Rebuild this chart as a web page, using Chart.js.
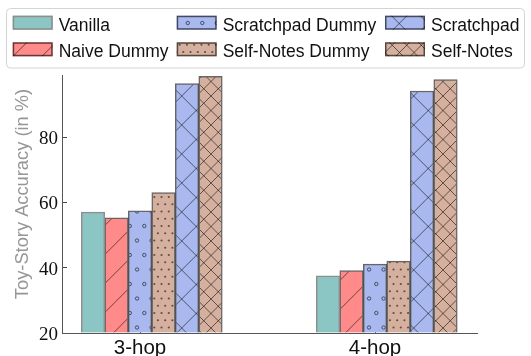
<!DOCTYPE html>
<html>
<head>
<meta charset="utf-8">
<script src="https://cdn.jsdelivr.net/npm/chart.js@4/dist/chart.umd.min.js"></script>
<style>
html,body{margin:0;padding:0;background:#fff;}
#wrap{width:531px;height:356px;position:relative;}
</style>
</head>
<body>
<div id="wrap"><canvas id="c" width="531" height="356"></canvas></div>
<script>
// ---- data ----
const categories = ['3-hop', '4-hop'];
const seriesNames = ['Vanilla', 'Naive Dummy', 'Scratchpad Dummy', 'Self-Notes Dummy', 'Scratchpad', 'Self-Notes'];
const vanilla         = [57.0, 37.5];
const naiveDummy      = [55.3, 39.1];
const scratchpadDummy = [57.4, 41.1];
const selfNotesDummy  = [63.0, 42.0];
const scratchpad      = [96.4, 94.1];
const selfNotes       = [98.6, 97.6];
const yTicks = [20, 40, 60, 80];
const yLabel = 'Toy-Story Accuracy (in %)';

// ---- styles ----
const seriesValues = [vanilla, naiveDummy, scratchpadDummy, selfNotesDummy, scratchpad, selfNotes];
const faces = ['#8cc6c4', '#ff8a8a', '#a9b9f0', '#d5b09e', '#a9b9f0', '#d5b09e'];
const edges = ['#8e8e8e', 'rgba(0,0,0,0.6)', 'rgba(0,0,0,0.6)', 'rgba(0,0,0,0.6)', 'rgba(0,0,0,0.6)', 'rgba(0,0,0,0.6)'];
const hatches = ['', '/', 'o', '..', 'x', 'xx'];
const slotOffsets = [-0.2, -0.1, 0, 0.1, 0.2, 0.3];

const canvas = document.getElementById('c');
const ctx = canvas.getContext('2d');
const S = 58, P = 29;
const HATCH = 'rgba(0,0,0,0.55)';

function slashLines(g, period, c0) { // lines x + y = c
  g.beginPath();
  for (let c = c0 - 3 * period; c <= 2 * S + 2 * period; c += period) {
    g.moveTo(c + 10, -10); g.lineTo(c - S - 10, S + 10);
  }
  g.stroke();
}
function backLines(g, period, d0) { // lines y - x = d
  g.beginPath();
  for (let d = d0 - S - 2 * period; d <= S + 2 * period; d += period) {
    g.moveTo(-10, d - 10); g.lineTo(S + 10, d + S + 10);
  }
  g.stroke();
}
function lattice(g, sp, ox, oy, fn) {
  const rows = Math.round(S / sp);
  for (let r = -1; r <= rows + 1; r++) {
    const y = oy + r * sp;
    const sh = (Math.abs(r) % 2 === 1) ? sp / 2 : 0;
    for (let j = -1; j <= rows + 1; j++) fn(ox + sh + j * sp, y);
  }
}
function makePattern(face, hatch) {
  if (!hatch) return face;
  const t = document.createElement('canvas');
  t.width = S; t.height = S;
  const g = t.getContext('2d');
  g.fillStyle = face; g.fillRect(0, 0, S, S);
  g.strokeStyle = HATCH; g.fillStyle = HATCH; g.lineWidth = 1;
  if (hatch === '/') slashLines(g, P, 11.3);
  if (hatch === 'x') { slashLines(g, P, 16.7); backLines(g, P, 1.3); }
  if (hatch === 'xx') { slashLines(g, P / 2, 2.5); backLines(g, P / 2, 1.0); }
  if (hatch === 'o') lattice(g, P / 2, 13.8, 23, (x, y) => { g.beginPath(); g.arc(x, y, 1.7, 0, Math.PI * 2); g.stroke(); });
  if (hatch === '..') lattice(g, P / 4, 2.05, 8.5, (x, y) => { g.beginPath(); g.arc(x, y, 1.1, 0, Math.PI * 2); g.fill(); });
  return ctx.createPattern(t, 'repeat');
}

const datasets = seriesNames.map((name, k) => ({
  label: name,
  data: seriesValues[k].map((v, i) => ({ x: i + slotOffsets[k], y: v })),
  backgroundColor: makePattern(faces[k], hatches[k]),
  borderColor: edges[k],
  borderWidth: 1.5,
  borderSkipped: 'start',
  base: 20,
  grouped: false,
  categoryPercentage: 1,
  barPercentage: 1
}));

// legend drawn matplotlib-style (3 columns, column-major)
const legendPlugin = {
  id: 'mplLegend',
  afterDraw(chart) {
    const c = chart.ctx;
    c.save();
    c.beginPath();
    c.roundRect(6.5, 8.5, 518, 59.5, 4);
    c.fillStyle = 'rgba(255,255,255,0.9)';
    c.fill();
    c.strokeStyle = '#d4d4d4'; c.lineWidth = 1; c.stroke();
    const colX = [12.7, 176.7, 385];
    const rowTop = [15.7, 42.3];
    const rowBase = [31, 56.7];
    c.font = '17.5px "Liberation Sans"';
    c.textBaseline = 'alphabetic';
    c.textAlign = 'left';
    chart.data.datasets.forEach((ds, k) => {
      const col = Math.floor(k / 2), row = k % 2;
      const x = colX[col], y = rowTop[row];
      c.fillStyle = ds.backgroundColor;
      c.fillRect(x, y, 40, 14);
      c.strokeStyle = ds.borderColor; c.lineWidth = 1.5;
      c.strokeRect(x + 0.75, y + 0.75, 38.5, 12.5);
      c.fillStyle = '#111';
      c.fillText(ds.label, x + 46, rowBase[row]);
    });
    c.restore();
  }
};
const yTitlePlugin = {
  id: 'yTitle',
  afterDraw(chart) {
    const c = chart.ctx;
    c.save();
    c.translate(23, 194);
    c.rotate(-Math.PI / 2);
    c.font = '18.3px "Liberation Sans"';
    c.fillStyle = '#969696';
    c.textAlign = 'center';
    c.textBaseline = 'middle';
    c.fillText(yLabel, 0, 0);
    c.restore();
  }
};

new Chart(ctx, {
  type: 'bar',
  data: { datasets },
  plugins: [legendPlugin, yTitlePlugin],
  options: {
    responsive: false,
    animation: false,
    devicePixelRatio: 1,
    layout: { padding: { top: 75, left: 0, right: 54, bottom: 0 } },
    plugins: { legend: { display: false }, tooltip: { enabled: false }, title: { display: false } },
    scales: {
      x: {
        type: 'linear',
        min: -0.332,
        max: 1.434,
        offset: false,
        afterBuildTicks: s => { s.ticks = categories.map((_, i) => ({ value: i })); },
        afterFit: s => { s.height = 23; },
        ticks: {
          callback: v => categories[v] !== undefined ? categories[v] : '',
          autoSkip: false, maxRotation: 0, minRotation: 0,
          color: '#111',
          font: { family: 'Liberation Sans', size: 20.5 },
          padding: 8
        },
        grid: { display: true, drawOnChartArea: false, drawTicks: true, tickLength: -5, color: '#444', offset: false },
        border: { display: true, color: '#555', width: 1 }
      },
      y: {
        type: 'linear',
        min: 20,
        max: 99,
        afterBuildTicks: s => { s.ticks = yTicks.map(v => ({ value: v })); },
        afterFit: s => { s.width = 62; },
        ticks: {
          color: '#111',
          font: { family: 'Liberation Serif', size: 19 },
          padding: 9,
          labelOffset: 2
        },
        grid: { display: true, drawOnChartArea: false, drawTicks: true, tickLength: -5, color: '#444' },
        border: { display: true, color: '#555', width: 1 }
      }
    }
  }
});
</script>
</body>
</html>
